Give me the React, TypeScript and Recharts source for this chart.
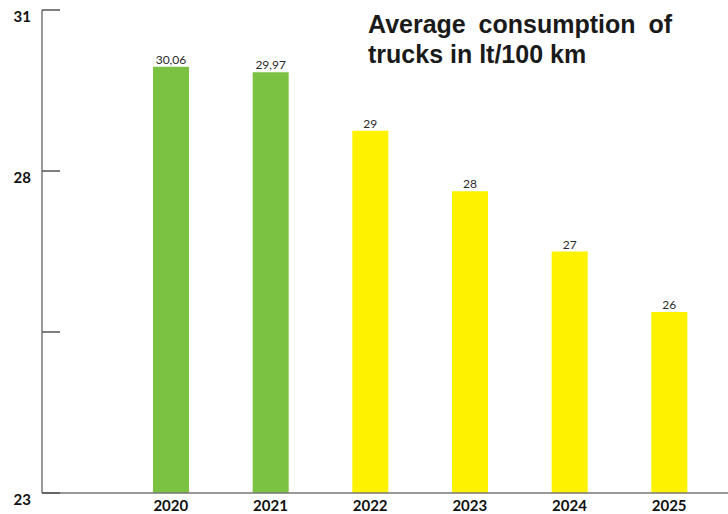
import { Bar, BarChart, Cell, LabelList, XAxis, YAxis } from "recharts"

const years = ["2020", "2021", "2022", "2023", "2024", "2025"]
const consumption = [30.06, 29.97, 29, 28, 27, 26]
const barColors = ["#7BC142", "#7BC142", "#FFF200", "#FFF200", "#FFF200", "#FFF200"]
const yTicks = [23, 25.667, 28.333, 31]
const yTickLabels = ["23", "", "28", "31"]

const data = years.map((year, i) => ({ year, value: consumption[i] }))

const YTick = ({ x, y, index }: any) => (
  <g>
    <line x1={x} y1={y} x2={x + 18} y2={y} stroke="#555" strokeWidth={1.5} />
    <text
      x={x - 11}
      y={y + 12}
      textAnchor="end"
      fontSize={15}
      fontWeight={700}
      fontFamily="Lato, sans-serif"
      fill="#111"
    >
      {yTickLabels[index]}
    </text>
  </g>
)

const XTick = ({ x, y, payload }: any) => (
  <text
    x={x}
    y={y + 18}
    textAnchor="middle"
    fontSize={15}
    fontWeight={700}
    fontFamily="Lato, sans-serif"
    fill="#111"
  >
    {payload.value}
  </text>
)

const formatValue = (v: any) => String(v).replace(".", ",")

export default function App() {
  return (
    <div style={{ position: "relative", width: 728, height: 514 }}>
      <style>{`body{margin:0}`}</style>
      <BarChart
        width={728}
        height={514}
        data={data}
        margin={{ top: 10, right: 0, bottom: 0, left: 0 }}
      >
        <XAxis
          dataKey="year"
          height={21}
          padding={{ left: 79, right: 9 }}
          tickLine={false}
          tickSize={0}
          tickMargin={0}
          tick={<XTick />}
          stroke="#777"
          strokeWidth={1.5}
        />
        <YAxis
          width={42}
          domain={[23, 31]}
          ticks={yTicks}
          interval={0}
          tickSize={0}
          tickMargin={0}
          tickLine={false}
          tick={<YTick />}
          stroke="#777"
          strokeWidth={1.5}
        />
        <Bar dataKey="value" barSize={36} isAnimationActive={false}>
          {data.map((d, i) => (
            <Cell key={d.year} fill={barColors[i]} />
          ))}
          <LabelList
            dataKey="value"
            position="top"
            offset={3}
            formatter={formatValue}
            fontSize={12}
            fill="#2a2a2a"
            fontFamily="Lato, sans-serif"
          />
        </Bar>
      </BarChart>
      <div
        style={{
          position: "absolute",
          left: 368,
          top: 9,
          width: 304,
          fontFamily: "'Liberation Sans', Arial, sans-serif",
          fontWeight: 700,
          fontSize: 25,
          lineHeight: "30px",
          color: "#1a1a1a",
        }}
      >
        <div style={{ textAlign: "justify", textAlignLast: "justify" }}>Average consumption of</div>
        <div>trucks in lt/100 km</div>
      </div>
    </div>
  )
}
